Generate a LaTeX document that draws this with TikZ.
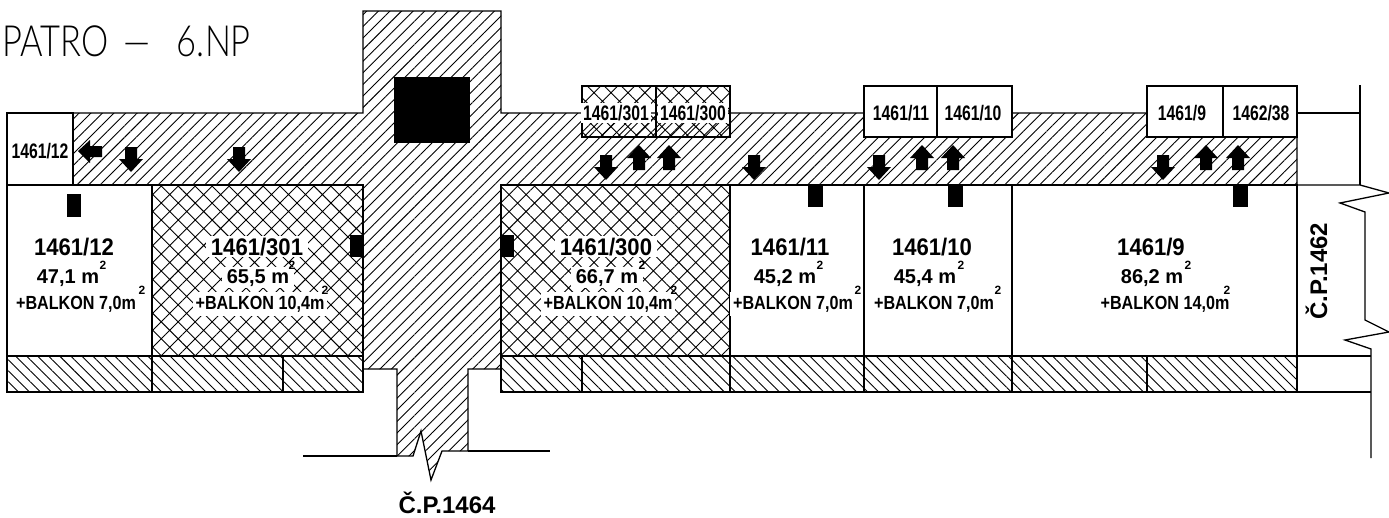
\documentclass[tikz,border=0pt]{standalone}
\usepackage{fontspec}
\usetikzlibrary{patterns.meta}
\setmainfont{Liberation Sans}
\newfontfamily\roomfont[FakeStretch=0.92]{Liberation Sans}
\newfontfamily\balkonfont[FakeStretch=0.85]{Liberation Sans}
\newfontfamily\boxfont[FakeStretch=0.75]{Liberation Sans}
\newfontfamily\titlefont[FakeStretch=0.8]{Lato Light}
\tikzstyle{wall}=[draw=black,line width=1.3pt]
\tikzstyle{corridor}=[wall,pattern={Lines[angle=45,distance=8.2pt,line width=.9pt]}]
\tikzstyle{balcony}=[wall,pattern={Lines[angle=-45,distance=7.8pt,line width=.9pt]}]
\tikzstyle{sold}=[wall,pattern={Hatch[angle=45,distance=12pt,line width=.9pt]}]
\tikzstyle{room}=[wall,fill=white]
\tikzstyle{blackmark}=[fill=black]
\tikzstyle{roomnum}=[font=\roomfont\bfseries\fontsize{24}{24}\selectfont,anchor=base,fill=white,inner xsep=5pt,inner ysep=2pt]
\tikzstyle{area}=[font=\bfseries\fontsize{20}{20}\selectfont,anchor=base,fill=white,inner xsep=5pt,inner ysep=2pt]
\tikzstyle{balkon}=[font=\balkonfont\bfseries\fontsize{19}{19}\selectfont,anchor=base,fill=white,inner xsep=3pt,inner ysep=4pt]
\tikzstyle{sq}=[font=\bfseries\fontsize{12}{12}\selectfont,inner sep=0pt]
\tikzstyle{boxlabel}=[font=\boxfont\bfseries\fontsize{21}{21}\selectfont,fill=white,inner sep=2pt]
\tikzstyle{house}=[font=\bfseries\fontsize{24}{24}\selectfont,inner sep=0pt]

\begin{document}
\begin{tikzpicture}[x=1pt,y=-1pt]
    \useasboundingbox (0,0) rectangle (1389,517);
    \clip (0,0) rectangle (1389,517);

    % corridor and stair block
    \path[corridor] (363,11) -- (501,11) -- (501,113) -- (1297,113) -- (1297,185) -- (501,185)
        -- (501,369) -- (468,369) -- (468,451) -- (442,451) -- (431,480) -- (421,431) -- (413,456)
        -- (397,456) -- (397,369) -- (363,369) -- (363,185) -- (7,185) -- (7,113) -- (363,113) -- cycle;
    \fill[blackmark] (394,77) rectangle (470,143);

    % rooms
    \foreach \xa/\xb in {7/152, 730/864, 864/1012, 1012/1297}
        \path[room] (\xa,185) rectangle (\xb,356);
    \foreach \xa/\xb in {152/363, 501/730}
        \path[sold] (\xa,185) rectangle (\xb,356);

    % balconies
    \foreach \xa/\xb in {7/152, 152/283, 283/363, 501/582, 582/730, 730/864, 864/1012, 1012/1147, 1147/1297}
        \path[balcony] (\xa,356) rectangle (\xb,392);

    % cellar boxes
    \path[room] (7,113) rectangle (73,185);
    \foreach \xa/\xb in {864/937, 937/1012, 1147/1223, 1223/1297}
        \path[room] (\xa,86) rectangle (\xb,137);
    \foreach \xa/\xb in {582/656, 656/730}
        \path[sold] (\xa,86) rectangle (\xb,137);

    % neighbouring house and free ends
    \draw[wall] (1297,113) -- (1360,113);
    \draw[wall] (1297,185) -- (1360,185) -- (1389,193) -- (1340,203) -- (1365,212) -- (1365,320)
        -- (1389,332) -- (1345,340) -- (1371,349) -- (1371,458);
    \draw[wall] (1360,85) -- (1360,185);
    \draw[wall] (1297,356) -- (1371,356);
    \draw[wall] (1297,392) -- (1371,392);
    \draw[wall] (303,456) -- (397,456);
    \draw[wall] (468,451) -- (550,451);

    % doors
    \foreach \x/\y/\w/\h in {67/194/14/23, 350/235/13/22, 501/235/13/22, 808/185/15/22, 948/185/15/22, 1233/185/15/22}
        \fill[blackmark] (\x,\y) rectangle (\x+\w,\y+\h);

    % arrows, tip first, \d gives the direction
    \foreach \x/\y/\d in {131/172/-1, 239/172/-1, 606/180/-1, 754/180/-1, 879/180/-1, 1163/180/-1,
                          639/145/1, 669/145/1, 922/145/1, 953/145/1, 1206/145/1, 1238/145/1}
        \fill[blackmark] (\x,\y) -- (\x+12,\y+\d*13) -- (\x+6,\y+\d*13) -- (\x+6,\y+\d*25)
            -- (\x-6,\y+\d*25) -- (\x-6,\y+\d*13) -- (\x-12,\y+\d*13) -- cycle;
    \fill[blackmark] (78,151) -- (90,140) -- (90,146) -- (102,146) -- (102,157) -- (90,157) -- (90,163) -- cycle;

    % room labels
    \foreach \name/\num/\nx/\ar/\ax/\sa/\bal/\bx/\sb in {
            r12/{1461/12}/74/{47,1 m}/68/103/{+BALKON 7,0m}/76/142,
            r301/{1461/301}/257/{65,5 m}/258/292/{+BALKON 10,4m}/260/325,
            r300/{1461/300}/606/{66,7 m}/607/642/{+BALKON 10,4m}/608/674,
            r11/{1461/11}/790/{45,2 m}/785/820/{+BALKON 7,0m}/793/858,
            r10/{1461/10}/932/{45,4 m}/925/961/{+BALKON 7,0m}/934/998,
            r9/{1461/9}/1151/{86,2 m}/1152/1188/{+BALKON 14,0m}/1165/1227} {
        \node[roomnum] (\name) at (\nx,255) {\num};
        \node[area] (\name a) at (\ax,283) {\ar};
        \node[balkon] (\name b) at (\bx,309) {\bal};
        \node[sq] (\name s) at (\sa,265) {2};
        \node[sq] (\name t) at (\sb,290) {2};
    }

    % box labels
    \foreach \name/\num/\x/\y in {b12/{1461/12}/40/151, b301/{1461/301}/616/113, b300/{1461/300}/693/113,
            b11/{1461/11}/901/113, b10/{1461/10}/973/113, b9/{1461/9}/1182/113, b38/{1462/38}/1261/113}
        \node[boxlabel] (\name) at (\x,\y) {\num};

    \node[house,anchor=base] (cp64) at (447,513) {Č.P.1464};
    \node[house,anchor=base west,rotate=90] (cp62) at (1327,320) {Č.P.1462};
    \node[font=\titlefont\fontsize{43}{43}\selectfont,anchor=base east,inner sep=0pt] (title) at (251,56) {PATRO\hspace{15pt}—\hspace{26pt}6.NP};
\end{tikzpicture}
\end{document}
